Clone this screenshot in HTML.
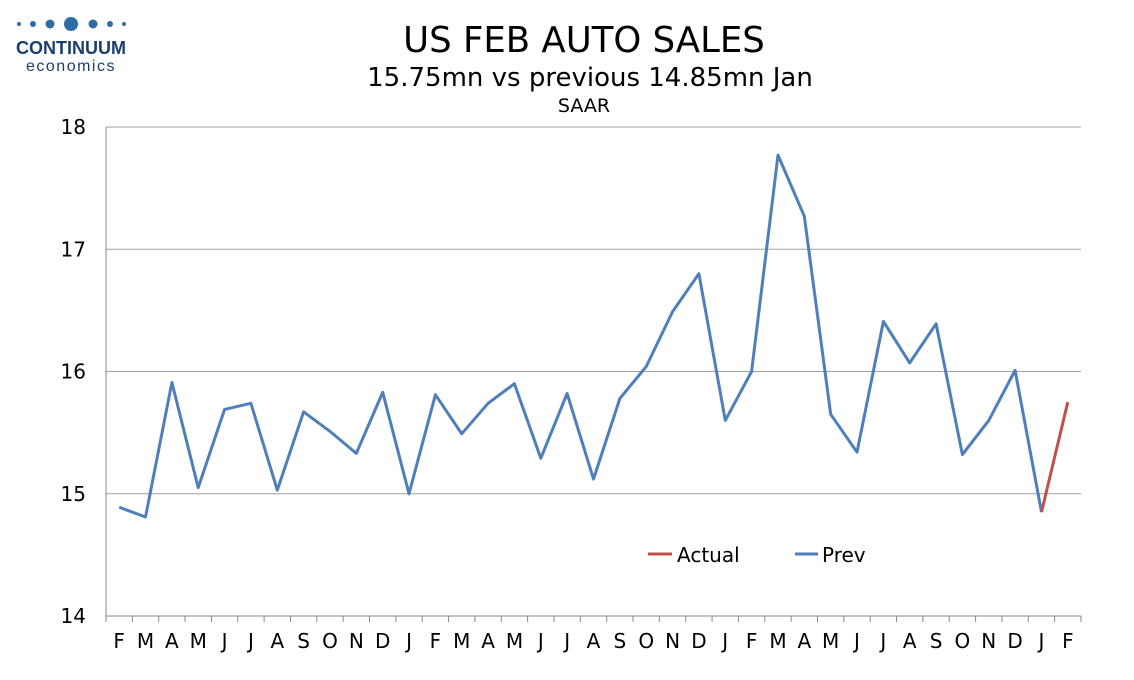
<!DOCTYPE html>
<html><head><meta charset="utf-8"><style>
body{margin:0;background:#fff;width:1134px;height:680px;overflow:hidden;font-family:"DejaVu Sans","Liberation Sans",sans-serif}
svg{display:block}
</style></head><body>
<svg id="chart" width="1134" height="680" xmlns="http://www.w3.org/2000/svg">
<g>
<circle cx="19" cy="24" r="2" fill="#2e6da4"/><circle cx="33" cy="24" r="3" fill="#2e6da4"/><circle cx="50" cy="24" r="4.5" fill="#2e6da4"/><circle cx="71" cy="24" r="7" fill="#2e6da4"/><circle cx="93" cy="24" r="4.5" fill="#2e6da4"/><circle cx="110" cy="24" r="3" fill="#2e6da4"/><circle cx="124" cy="24" r="2" fill="#2e6da4"/>
<text x="71" y="54" text-anchor="middle" font-size="18" font-weight="bold" fill="#1a3e6e" font-family="Liberation Sans, sans-serif">CONTINUUM</text>
<text x="71" y="71" text-anchor="middle" font-size="16" fill="#1a3e6e" letter-spacing="1.5" font-family="Liberation Sans, sans-serif">economics</text>
</g>
<text x="584" y="52" text-anchor="middle" font-size="35.5">US FEB AUTO SALES</text>
<text x="590" y="86" text-anchor="middle" font-size="26">15.75mn vs previous 14.85mn Jan</text>
<text x="584" y="112" text-anchor="middle" font-size="19">SAAR</text>
<g id="grid"></g><g id="axes"></g><g id="series"></g>
<g>
<line x1="648" y1="554" x2="672" y2="554" stroke="#c0504d" stroke-width="3"/>
<text x="677" y="562" font-size="20">Actual</text>
<line x1="795" y1="554" x2="818" y2="554" stroke="#4f7fba" stroke-width="3"/>
<text x="822" y="562" font-size="20">Prev</text>
</g>
</svg>
<script>
const categories=["F","M","A","M","J","J","A","S","O","N","D","J","F","M","A","M","J","J","A","S","O","N","D","J","F","M","A","M","J","J","A","S","O","N","D","J","F"];
const prevValues=[14.89,14.81,15.91,15.05,15.69,15.74,15.03,15.67,15.51,15.33,15.83,15.0,15.81,15.49,15.74,15.9,15.29,15.82,15.12,15.78,16.04,16.49,16.8,15.6,16.0,17.77,17.27,15.65,15.34,16.41,16.07,16.39,15.32,15.6,16.01,14.85,null];
const actualValues=[null,null,null,null,null,null,null,null,null,null,null,null,null,null,null,null,null,null,null,null,null,null,null,null,null,null,null,null,null,null,null,null,null,null,null,14.85,15.75];
const yTicks=[14,15,16,17,18];
const X0=106,X1=1081,Y0=616,Y1=127,yMin=14,yMax=18;
const bw=(X1-X0)/categories.length;
const x=i=>X0+bw*(i+0.5);
const y=v=>Y0-(v-yMin)/(yMax-yMin)*(Y0-Y1);
const NS="http://www.w3.org/2000/svg";
function mk(t,a,p){const e=document.createElementNS(NS,t);for(const k in a)e.setAttribute(k,a[k]);document.getElementById(p).appendChild(e);return e;}
yTicks.forEach(v=>{
 const l=mk('line',{x1:X0,x2:X1,y1:y(v),y2:y(v),stroke:'#a0a0a0','stroke-width':1},'grid');
 
 
 const t=mk('text',{x:X0-20,y:y(v)+7,'text-anchor':'end','font-size':20},'axes');t.textContent=v;
 
 
});
const ax=mk('line',{x1:X0,x2:X0,y1:Y1,y2:Y0,stroke:'#888'},'axes');


const xa=mk('line',{x1:X0,x2:X1,y1:Y0,y2:Y0,stroke:'#888'},'axes');


categories.forEach((c,i)=>{
 const tk=mk('line',{x1:X0+bw*i,x2:X0+bw*i,y1:Y0,y2:Y0+6,stroke:'#888'},'axes');
 
 
 const t=mk('text',{x:x(i),y:Y0+32,'text-anchor':'middle','font-size':20},'axes');t.textContent=c;
 
 
});
const tkl=mk('line',{x1:X1,x2:X1,y1:Y0,y2:Y0+6,stroke:'#888'},'axes');


function path(vals){let d='';vals.forEach((v,i)=>{if(v!==null)d+=(d?'L':'M')+x(i).toFixed(1)+' '+y(v).toFixed(1);});return d;}
const pp=mk('path',{d:path(prevValues),fill:'none',stroke:'#4f7fba','stroke-width':3,'stroke-linejoin':'round'},'series');


const ap=mk('path',{d:path(actualValues),fill:'none',stroke:'#c0504d','stroke-width':3},'series');


</script>
</body></html>
